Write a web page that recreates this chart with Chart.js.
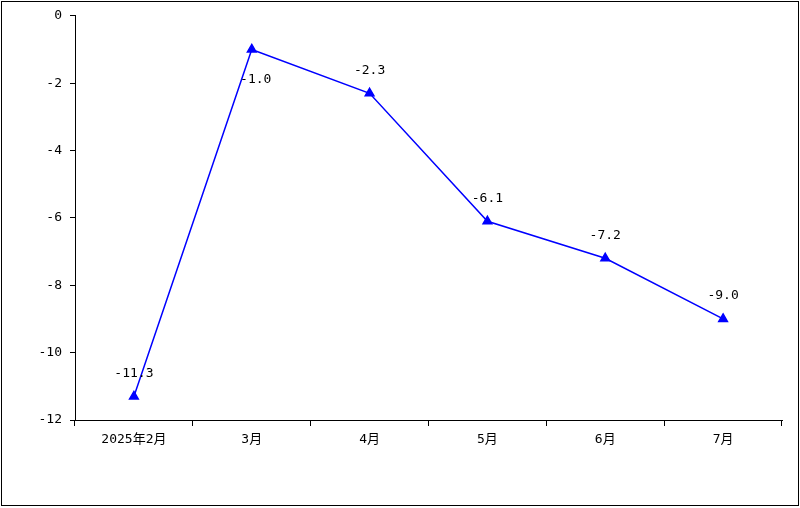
<!DOCTYPE html>
<html><head><meta charset="utf-8">
<script src="https://cdn.jsdelivr.net/npm/chart.js@4/dist/chart.umd.min.js"></script>
<style>body{margin:0;background:#fff}#wrap{width:800px;height:508px}</style>
</head><body><div id="wrap"><canvas id="c"></canvas></div>
<script>
// categorie e valori
const labels = ["2025年2月", "3月", "4月", "5月", "6月", "7月"];
const values = [-11.3, -1.0, -2.3, -6.1, -7.2, -9.0];
const yTicks = [0, -2, -4, -6, -8, -10, -12];

const font = { family: "'DejaVu Sans Mono', 'Noto Sans CJK SC', monospace", size: 13 };

// cornice esterna
const frame = {
  id: "frame",
  afterDraw(chart) {
    const ctx = chart.ctx;
    ctx.save();
    ctx.strokeStyle = "#000";
    ctx.lineWidth = 1;
    ctx.strokeRect(1.5, 1.5, 797, 504);
    ctx.restore();
  },
};

// etichette dei valori
const valueLabels = {
  id: "valueLabels",
  afterDatasetsDraw(chart) {
    const ctx = chart.ctx;
    const meta = chart.getDatasetMeta(0);
    ctx.save();
    ctx.font = "13px " + font.family;
    ctx.fillStyle = "#000";
    ctx.textAlign = "center";
    ctx.textBaseline = "middle";
    meta.data.forEach((p, i) => {
      const below = i === 1;
      ctx.fillText(values[i].toFixed(1), p.x + (below ? 4 : 0), p.y + (below ? 30 : -23));
    });
    ctx.restore();
  },
};

new Chart(document.getElementById("c"), {
  type: "line",
  data: {
    labels: labels,
    datasets: [{
      data: values,
      borderColor: "#0000ff",
      backgroundColor: "#0000ff",
      borderWidth: 1.5,
      pointStyle: "triangle",
      pointRadius: 5,
      tension: 0,
    }],
  },
  options: {
    responsive: true,
    maintainAspectRatio: false,
    animation: false,
    layout: { padding: { top: 14, right: 18, left: 0, bottom: 0 } },
    plugins: { legend: { display: false }, tooltip: { enabled: false } },
    scales: {
      x: {
        offset: true,
        afterFit: (s) => { s.height = 88; },
        grid: { offset: true, drawOnChartArea: false, tickLength: 6, color: "#000" },
        border: { color: "#000" },
        ticks: { color: "#000", font: font, padding: 6 },
      },
      y: {
        min: -12,
        max: 0,
        afterFit: (s) => { s.width = 75; },
        afterBuildTicks: (s) => { s.ticks = yTicks.map((v) => ({ value: v })); },
        grid: { drawOnChartArea: false, tickLength: 5, color: "#000" },
        border: { color: "#000" },
        ticks: { color: "#000", font: font, padding: 8 },
      },
    },
  },
  plugins: [frame, valueLabels],
});
</script></body></html>
